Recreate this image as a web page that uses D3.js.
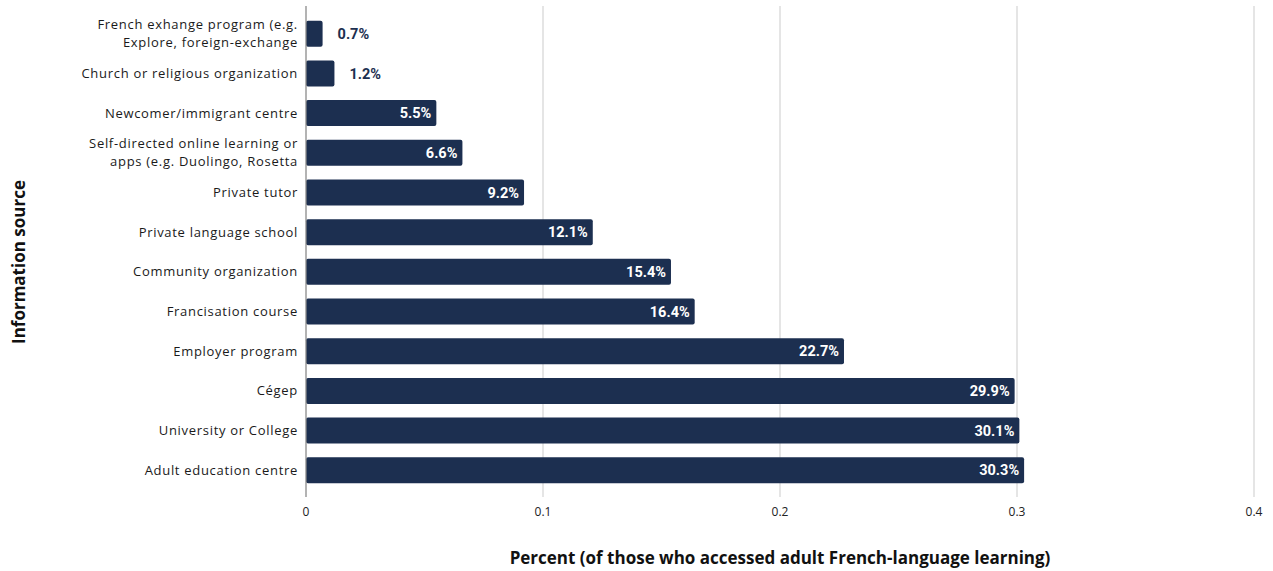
<!DOCTYPE html>
<html>
<head>
<meta charset="utf-8">
<script src="https://cdn.jsdelivr.net/npm/d3@7"></script>
<style>
  html, body { margin: 0; padding: 0; background: #ffffff; }
  svg { display: block; }
</style>
</head>
<body>
<svg id="chart" width="1273" height="571"></svg>
<script>
// Sources of adult French-language learning (share of respondents)
const categories = [
  ["French exhange program (e.g.", "Explore, foreign-exchange"],
  ["Church or religious organization"],
  ["Newcomer/immigrant centre"],
  ["Self-directed online learning or", "apps (e.g. Duolingo, Rosetta"],
  ["Private tutor"],
  ["Private language school"],
  ["Community organization"],
  ["Francisation course"],
  ["Employer program"],
  ["Cégep"],
  ["University or College"],
  ["Adult education centre"]
];
const values = [0.007, 0.012, 0.055, 0.066, 0.092, 0.121, 0.154, 0.164, 0.227, 0.299, 0.301, 0.303];
const xTicks = [0, 0.1, 0.2, 0.3, 0.4];
const xTitle = "Percent (of those who accessed adult French-language learning)";
const yTitle = "Information source";

const svg = d3.select("#chart");
const left = 306, right = 1254;
const x = d3.scaleLinear().domain([0, 0.4]).range([left, right]);
const y = d3.scaleBand().domain(d3.range(categories.length)).range([14, 490]).paddingInner(0.345).paddingOuter(0.17);
const barColor = "#1c2f50";

// vertical gridlines
svg.append("g").selectAll("line").data(xTicks.filter(t => t > 0)).join("line")
  .attr("x1", d => x(d)).attr("x2", d => x(d))
  .attr("y1", 6).attr("y2", 497)
  .attr("stroke", "#d4d4d4").attr("stroke-width", 1.2);

// bars with slightly rounded ends
svg.append("g").selectAll("rect").data(values).join("rect")
  .attr("x", x(0))
  .attr("y", (d, i) => y(i))
  .attr("width", d => x(d) - x(0))
  .attr("height", y.bandwidth())
  .attr("rx", 2).attr("ry", 2)
  .attr("fill", barColor);

// baseline axis
svg.append("line")
  .attr("x1", x(0)).attr("x2", x(0)).attr("y1", 6).attr("y2", 497)
  .attr("stroke", "#8a8a8a").attr("stroke-width", 1.3);

// value labels: inside for long bars, outside for short ones
svg.append("g").selectAll("text").data(values).join("text")
  .attr("x", d => d < 0.03 ? x(d) + 15 : x(d) - 5)
  .attr("y", (d, i) => y(i) + y.bandwidth() / 2)
  .attr("dy", "0.36em")
  .attr("text-anchor", d => d < 0.03 ? "start" : "end")
  .attr("font-family", "Roboto, 'Liberation Sans', sans-serif")
  .attr("font-weight", "bold")
  .attr("font-size", 14.5)
  .attr("fill", d => d < 0.03 ? barColor : "#ffffff")
  .text(d => (d * 100).toFixed(1) + "%");

// category labels
const catG = svg.append("g");
categories.forEach((lines, i) => {
  const cy = y(i) + y.bandwidth() / 2;
  const t = catG.append("text")
    .attr("x", 298)
    .attr("text-anchor", "end")
    .attr("font-family", "'Open Sans', 'Liberation Sans', sans-serif")
    .attr("font-size", 13)
    .attr("letter-spacing", "0.7px")
    .attr("fill", "#1a1a1a");
  const lh = 18;
  lines.forEach((ln, k) => {
    t.append("tspan")
      .attr("x", 298)
      .attr("y", cy + (k - (lines.length - 1) / 2) * lh)
      .attr("dy", "0.35em")
      .text(ln);
  });
});

// x tick labels
svg.append("g").selectAll("text").data(xTicks).join("text")
  .attr("x", d => x(d))
  .attr("y", 512)
  .attr("dy", "0.35em")
  .attr("text-anchor", "middle")
  .attr("font-family", "'Open Sans', 'Liberation Sans', sans-serif")
  .attr("font-size", 12)
  .attr("fill", "#222")
  .text(d => d3.format("")(d));

// axis titles
svg.append("text")
  .attr("x", 780).attr("y", 558)
  .attr("dy", "0.35em")
  .attr("text-anchor", "middle")
  .attr("font-family", "'Open Sans', 'Liberation Sans', sans-serif")
  .attr("font-weight", "bold")
  .attr("font-size", 17)
  .attr("fill", "#111")
  .text(xTitle);

svg.append("text")
  .attr("transform", "translate(19,262) rotate(-90)")
  .attr("dy", "0.35em")
  .attr("text-anchor", "middle")
  .attr("font-family", "'Open Sans', 'Liberation Sans', sans-serif")
  .attr("font-weight", "bold")
  .attr("font-size", 17)
  .attr("fill", "#111")
  .text(yTitle);
</script>
</body>
</html>
